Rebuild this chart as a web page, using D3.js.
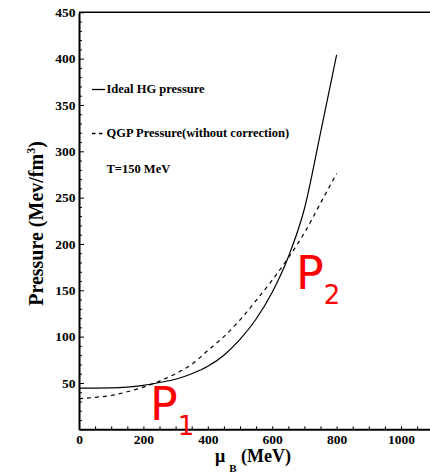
<!DOCTYPE html>
<html>
<head>
<meta charset="utf-8">
<script src="https://cdn.jsdelivr.net/npm/d3@7"></script>
<style>
  body { margin: 0; background: #fff; }
  svg { display: block; }
  text { font-family: "Liberation Serif", "Times New Roman", serif; font-weight: bold; }
</style>
</head>
<body>
<svg id="chart"></svg>
<script>
// values
const muB = [0, 50, 100, 150, 200, 250, 300, 350, 400, 450, 500, 550, 600, 650, 700, 750, 800];
const hgPressure = [44.5, 44.5, 44.6, 45.5, 47.5, 50.5, 54, 60, 68, 80, 97, 119, 148, 186, 238, 320, 404];
const qgpPressure = [33, 34.5, 36.5, 40.5, 45.5, 52, 60, 70, 85, 100, 118, 139, 161, 185, 212, 244, 276];
const xTickLabels = [0, 200, 400, 600, 800, 1000];
const yTickLabels = [50, 100, 150, 200, 250, 300, 350, 400, 450];
const legendLabels = ['Ideal HG pressure', 'QGP Pressure(without correction)'];
const noteText = 'T=150 MeV';

class PressureChart {
    constructor(config) {
        this.config = {
            parent: config.parent,
            width: config.width || 430,
            height: config.height || 474,
            left: 79, right: 430, top: 12.3, bottom: 429.3
        };
        this.init();
    }

    init() {
        let self = this;
        self.svg = d3.select(self.config.parent)
            .attr('width', self.config.width)
            .attr('height', self.config.height);

        self.x = d3.scaleLinear().domain([0, 1090]).range([self.config.left, self.config.right]);
        self.y = d3.scaleLinear().domain([0, 450]).range([self.config.bottom, self.config.top]);

        self.line = d3.line()
            .x((d, i) => self.x(muB[i]))
            .y(d => self.y(d))
            .curve(d3.curveMonotoneX);
        self.render();
    }

    render() {
        let self = this;
        const c = self.config;

        // frame top edge
        self.svg.append('line')
            .attr('x1', c.left).attr('x2', c.right)
            .attr('y1', c.top).attr('y2', c.top)
            .attr('stroke', '#000').attr('stroke-width', 1.5);

        const xAxis = d3.axisBottom(self.x)
            .tickValues(d3.range(0, 1091, 50))
            .tickSizeInner(-3).tickSizeOuter(0).tickPadding(5)
            .tickFormat(d => xTickLabels.includes(d) ? d : '');
        const gx = self.svg.append('g')
            .attr('transform', `translate(0, ${c.bottom})`)
            .call(xAxis);

        const yAxis = d3.axisLeft(self.y)
            .tickValues(d3.range(0, 451, 10))
            .tickSizeInner(-3).tickSizeOuter(0).tickPadding(3.5)
            .tickFormat(d => yTickLabels.includes(d) ? d : '');
        const gy = self.svg.append('g')
            .attr('transform', `translate(${c.left}, 0)`)
            .call(yAxis);
        gy.selectAll('.tick line')
            .attr('x2', d => d % 50 === 0 ? 5 : 3);

        [gx, gy].forEach(g => {
            g.select('.domain').attr('stroke-width', 2);
            g.selectAll('.tick line').attr('stroke-width', 1);
            g.selectAll('text')
                .attr('font-family', '"Liberation Serif", serif')
                .attr('font-weight', 'bold')
                .attr('font-size', '13.5px')
                .attr('fill', '#000');
        });

        // curves
        self.svg.append('path')
            .attr('d', self.line(hgPressure))
            .attr('fill', 'none')
            .attr('stroke', '#000')
            .attr('stroke-width', 1.2);
        self.svg.append('path')
            .attr('d', self.line(qgpPressure))
            .attr('fill', 'none')
            .attr('stroke', '#000')
            .attr('stroke-width', 1.2)
            .attr('stroke-dasharray', '4,4');

        // legend
        self.svg.append('line')
            .attr('x1', 92).attr('x2', 105).attr('y1', 89.5).attr('y2', 89.5)
            .attr('stroke', '#000').attr('stroke-width', 1.3);
        self.svg.append('line')
            .attr('x1', 92).attr('x2', 104).attr('y1', 133.5).attr('y2', 133.5)
            .attr('stroke', '#000').attr('stroke-width', 1.3)
            .attr('stroke-dasharray', '3.5,3.5');
        self.svg.selectAll('text.legend')
            .data(legendLabels)
            .join('text')
            .attr('class', 'legend')
            .attr('x', 106.5)
            .attr('y', (d, i) => i === 0 ? 92.7 : 136.7)
            .attr('font-size', '12.5px')
            .text(d => d);
        self.svg.append('text')
            .attr('x', 106.5).attr('y', 173)
            .attr('font-size', '12.5px')
            .text(noteText);

        // axis titles
        self.svg.append('text')
            .attr('transform', 'translate(43, 223.5) rotate(-90)')
            .attr('text-anchor', 'middle')
            .attr('font-size', '20px')
            .html('Pressure (Mev/fm<tspan dy="-8" font-size="12px">3</tspan><tspan dy="8">)</tspan>');
        const xt = self.svg.append('text')
            .attr('x', 215).attr('y', 461.7)
            .attr('font-size', '18px');
        xt.append('tspan').text('\u03bc');
        xt.append('tspan').attr('dx', 4).attr('dy', 10).attr('font-size', '11px').text('B');
        xt.append('tspan').attr('dy', -10).text(' (MeV)');

        // red point labels
        const marks = [
            { name: '1', x: 150, y: 420 },
            { name: '2', x: 296, y: 289 }
        ];
        marks.forEach(m => {
            const t = self.svg.append('text')
                .attr('x', m.x).attr('y', m.y)
                .attr('fill', '#ff0000')
                .style('font-family', '"DejaVu Sans", sans-serif')
                .style('font-weight', 'normal')
                .attr('font-size', '46px');
            t.append('tspan').text('P');
            t.append('tspan').attr('dy', 15).attr('font-size', '26px').text(m.name);
        });
    }
}

new PressureChart({ parent: '#chart', width: 430, height: 474 });
</script>
</body>
</html>
